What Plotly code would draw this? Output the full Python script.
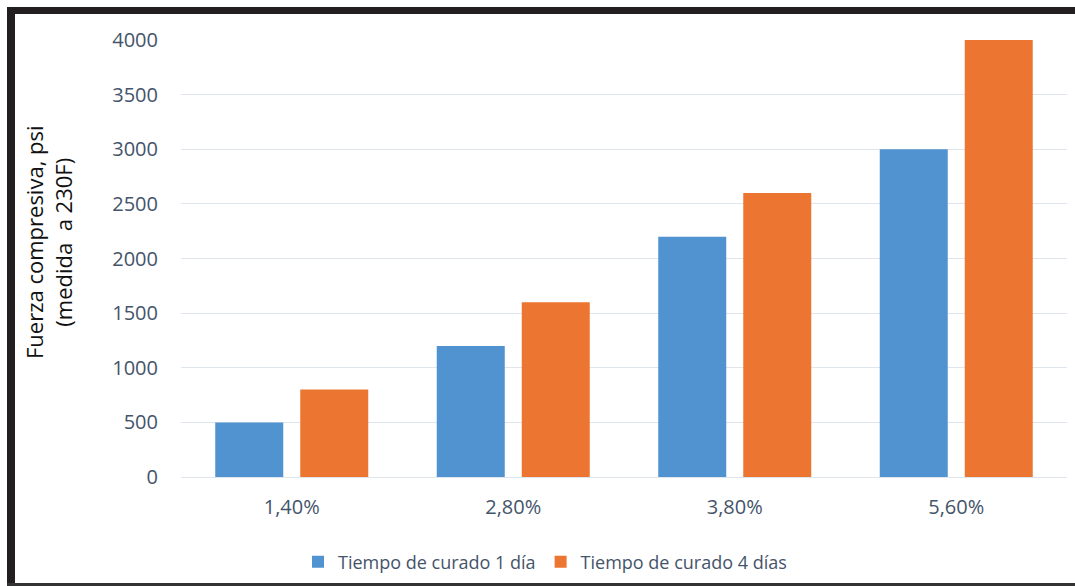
import plotly.graph_objects as go

# Data
categorias = ["1,40%", "2,80%", "3,80%", "5,60%"]
curado_1_dia = [500, 1200, 2200, 3000]
curado_4_dias = [800, 1600, 2600, 4000]
y_ticks = [0, 500, 1000, 1500, 2000, 2500, 3000, 3500, 4000]

W, H = 1075, 586
ML, MR, MT, MB = 181, 8, 40, 109
PW, PH = W - ML - MR, H - MT - MB


def px(x):
    return (x - ML) / PW


def py(y):
    return (H - MB - y) / PH


FONT = "Open Sans"
TXT = "#44546a"

fig = go.Figure()
fig.add_trace(go.Bar(
    x=categorias, y=curado_1_dia, name="Tiempo de curado 1 día",
    marker=dict(color="#5193d0", line=dict(width=0)),
))
fig.add_trace(go.Bar(
    x=categorias, y=curado_4_dias, name="Tiempo de curado 4 días",
    marker=dict(color="#ec7631", line=dict(width=0)),
))

# Frame around the chart: heavy top and left rules, thin bottom rule
shapes = [
    dict(type="rect", xref="paper", yref="paper", x0=px(7), x1=px(W), y0=py(14), y1=py(7),
         fillcolor="#231f20", line=dict(width=0), layer="above"),
    dict(type="rect", xref="paper", yref="paper", x0=px(7), x1=px(15), y0=py(H), y1=py(7),
         fillcolor="#231f20", line=dict(width=0), layer="above"),
    dict(type="rect", xref="paper", yref="paper", x0=px(7), x1=px(W), y0=py(H), y1=py(583),
         fillcolor="#333333", line=dict(width=0), layer="above"),
]

fig.update_layout(
    width=W, height=H,
    margin=dict(l=ML, r=MR, t=MT, b=MB, pad=0, autoexpand=False),
    paper_bgcolor="white", plot_bgcolor="white",
    barmode="group", bargap=0.2325, bargroupgap=0.2,
    font=dict(family=FONT, color=TXT),
    shapes=shapes,
    showlegend=True,
    legend=dict(orientation="h", x=px(545), xanchor="center", y=py(562), yanchor="middle",
                font=dict(family=FONT, size=18, color=TXT), bgcolor="rgba(0,0,0,0)",
                traceorder="normal"),
    annotations=[dict(
        text="Fuerza compresiva, psi<br>(medida  a 230F)",
        xref="paper", yref="paper", x=px(49), y=py(242),
        xanchor="center", yanchor="middle", textangle=-90, showarrow=False,
        font=dict(family=FONT, size=22, color="#111111"),
    )],
)
fig.update_xaxes(
    showgrid=False, showline=False, ticks="", ticklabelstandoff=16,
    tickfont=dict(family=FONT, size=20, color=TXT),
)
fig.update_yaxes(
    range=[0, 4000], tickvals=y_ticks, ticktext=[str(v) for v in y_ticks],
    showgrid=True, gridcolor="#dfe5ec", gridwidth=1,
    zeroline=True, zerolinecolor="#dfe5ec", zerolinewidth=1,
    showline=False, ticks="", ticklabelstandoff=22,
    tickfont=dict(family=FONT, size=20, color=TXT),
)

fig.write_html("out.html")
